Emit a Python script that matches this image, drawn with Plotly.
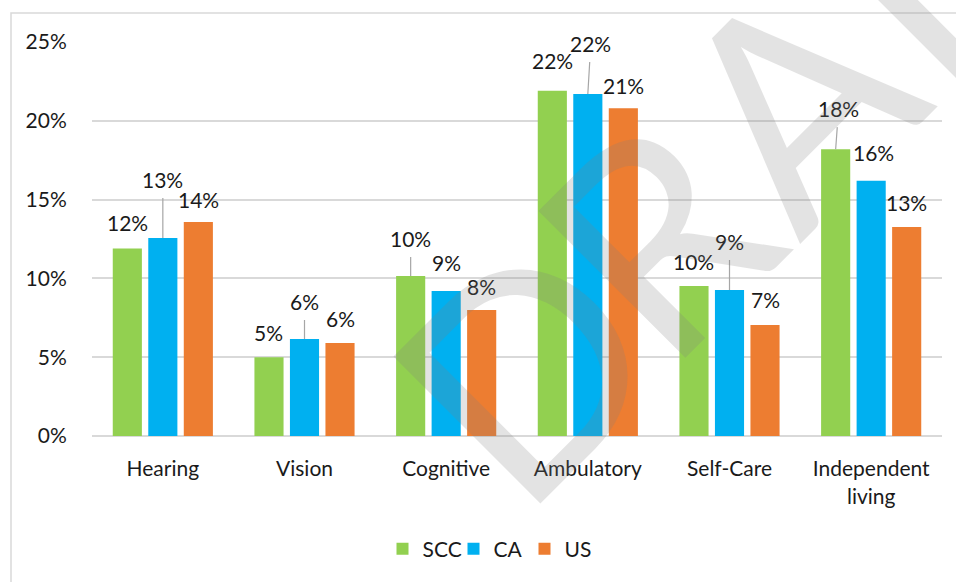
import math
import plotly.graph_objects as go

# data (share of population with each disability type)
categories = ["Hearing", "Vision", "Cognitive", "Ambulatory", "Self-Care", "Independent<br>living"]
scc = [0.119, 0.050, 0.1015, 0.219, 0.0952, 0.182]
ca = [0.1256, 0.0615, 0.092, 0.217, 0.0926, 0.162]
us = [0.1358, 0.059, 0.080, 0.208, 0.0704, 0.1326]

series = [("SCC", scc, "#92D050"), ("CA", ca, "#00B0F0"), ("US", us, "#ED7D31")]

# how far (px) each value label sits above its bar, and whether it has a leader line
label_lift = {
    "SCC": [26, 25, 38, 30, 24, 41],
    "CA": [59, 38, 29, 51, 49, 28],
    "US": [22, 25, 23, 23, 26, 25],
}
leader = {
    "SCC": [False, False, True, False, False, True],
    "CA": [True, True, False, True, True, False],
    "US": [False] * 6,
}
label_dx = {
    "SCC": [0, 0, 0, 0, 0, 3],
    "CA": [0, 0, 0, 3, 0, 2],
    "US": [0] * 6,
}

# watermark letters and where their centres fall along the 45deg baseline (px)
wm_letters = ["D", "R", "A", "F", "T"]
wm_along = [110, 296, 492, 676, 809]
wm_across = -626

W, H = 956, 582
L, R, T, B = 92, 14, 42, 146
FONT = "Lato"
TXT = "#1a1a1a"
BARGAP = 0.248

fig = go.Figure()
for name, vals, col in series:
    fig.add_trace(go.Bar(x=categories, y=vals, name=name, marker_color=col,
                         marker_line_width=0, hoverinfo="skip"))

# value labels
plot_w = W - L - R
plot_h = H - T - B
slot = plot_w / len(categories) * (1 - BARGAP) / len(series)
for i, (name, vals, col) in enumerate(series):
    shift = (i - 1) * slot
    for j, v in enumerate(vals):
        txt = f"{v:.0%}"
        if leader[name][j]:
            fig.add_annotation(x=categories[j], y=v, text=txt, xshift=shift,
                               showarrow=True, arrowhead=0, arrowwidth=1.2,
                               arrowcolor="#A6A6A6", standoff=0, startstandoff=5,
                               ax=label_dx[name][j], ay=-label_lift[name][j],
                               font=dict(family=FONT, size=21, color=TXT))
        else:
            fig.add_annotation(x=categories[j], y=v, text=txt,
                               xshift=shift + label_dx[name][j],
                               yshift=label_lift[name][j], showarrow=False,
                               yanchor="middle",
                               font=dict(family=FONT, size=21, color=TXT))

# DRAFT watermark, one letter at a time so the spacing follows the original
r2 = math.sqrt(2)
for ch, s in zip(wm_letters, wm_along):
    px = (s - wm_across) / r2
    py = -(s + wm_across) / r2
    fig.add_annotation(xref="paper", yref="paper",
                       x=(px - L) / plot_w, y=(H - B - py) / plot_h,
                       text=ch, textangle=-45, showarrow=False,
                       xanchor="center", yanchor="middle",
                       font=dict(family=FONT, size=290, color="rgba(128,128,128,0.22)"))

# chart border
fig.add_shape(type="rect", xref="paper", yref="paper",
              x0=(11 - L) / plot_w, x1=(W + 10 - L) / plot_w,
              y0=(H - B - (H + 10)) / plot_h, y1=(H - B - 13) / plot_h,
              line=dict(color="#D9D9D9", width=1.5), layer="below")

fig.update_layout(
    width=W, height=H,
    margin=dict(l=L, r=R, t=T, b=B, autoexpand=False),
    paper_bgcolor="white", plot_bgcolor="white",
    font=dict(family=FONT, size=21, color=TXT),
    barmode="group", bargap=BARGAP, bargroupgap=0.18,
    showlegend=True,
    legend=dict(orientation="h", x=(489 - L) / plot_w, xanchor="center",
                y=(H - B - 549) / plot_h, yanchor="middle",
                entrywidth=26, entrywidthmode="pixels",
                font=dict(family=FONT, size=21, color=TXT), traceorder="normal"),
)
fig.update_xaxes(showgrid=False, showline=False, ticks="outside", ticklen=14,
                 tickcolor="rgba(0,0,0,0)", tickfont=dict(size=21))
fig.update_yaxes(range=[0, 0.25], dtick=0.05, tickformat=".0%",
                 showgrid=True, gridcolor="#D9D9D9", gridwidth=1.5,
                 zeroline=True, zerolinecolor="#D9D9D9", zerolinewidth=2,
                 showline=False, ticks="outside", ticklen=20,
                 tickcolor="rgba(0,0,0,0)", tickfont=dict(size=21))

# the page's default body margin would push the chart 8px off the corner
fig.write_html("out.html", config={"displayModeBar": False},
               post_script="document.body.style.margin='0px';")
